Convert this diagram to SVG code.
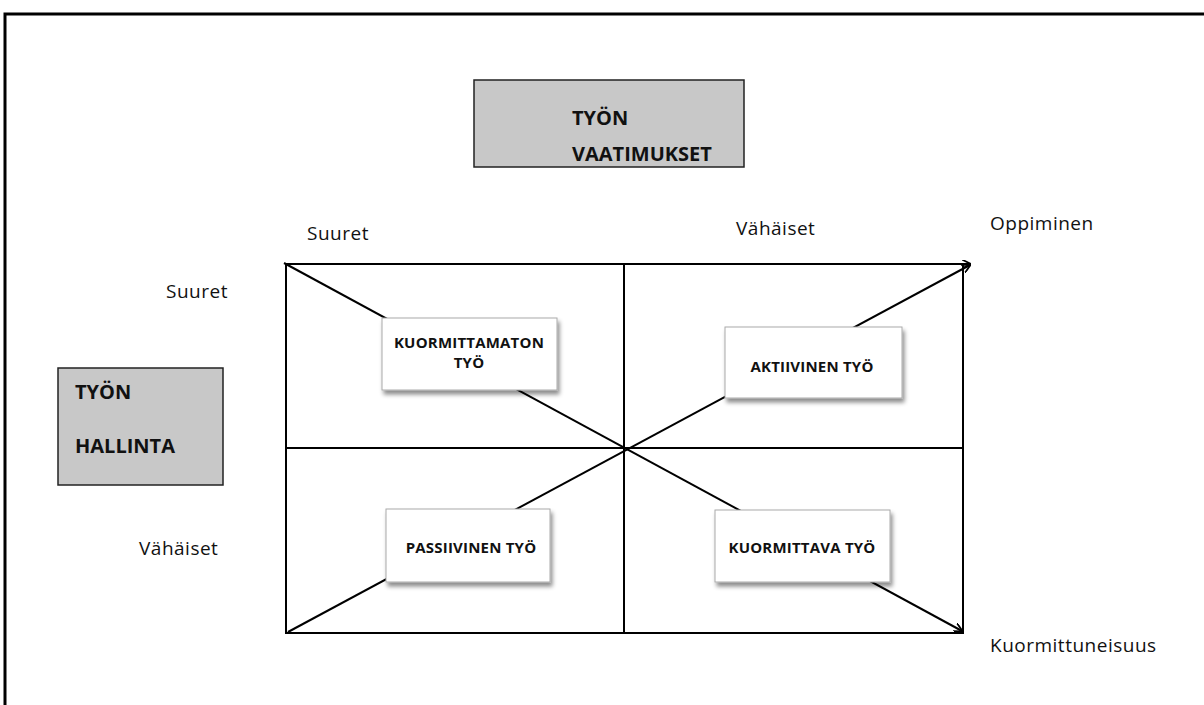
<svg xmlns="http://www.w3.org/2000/svg" width="1204" height="705" viewBox="0 0 1204 705">
<defs>
<marker id="arr" viewBox="0 0 10 10" refX="9" refY="5" markerWidth="9" markerHeight="9" markerUnits="userSpaceOnUse" orient="auto"><path d="M0,0 L10,5 L0,10" fill="none" stroke="#000" stroke-width="2"/></marker>
<filter id="sh" x="-10%" y="-10%" width="130%" height="140%"><feDropShadow dx="2" dy="4" stdDeviation="2" flood-color="#000" flood-opacity="0.45"/></filter>
</defs>
<style>
.gray{fill:#c8c8c8;stroke:#222;stroke-width:1.5}
.card{fill:#fff;stroke:#aaa;stroke-width:1;filter:url(#sh)}
.ln{stroke:#000;stroke-width:2;fill:none}
.big{font-family:"Open Sans","Liberation Sans",sans-serif;font-weight:bold;font-size:20px;fill:#111}
.sm{font-family:"Open Sans","Liberation Sans",sans-serif;font-weight:bold;font-size:15px;fill:#111;text-anchor:middle;letter-spacing:0.2px}
.lbl{font-family:"Open Sans","Liberation Sans",sans-serif;font-size:19px;fill:#111;letter-spacing:0.5px}
</style>
<rect width="1204" height="705" fill="#fff"/>
<path d="M5,705 L5,14 L1204,14" fill="none" stroke="#000" stroke-width="3"/>
<g id="connectors">
<rect x="286" y="264" width="677" height="369" class="ln"/>
<line x1="624" y1="264" x2="624" y2="633" class="ln"/>
<line x1="286" y1="448" x2="963" y2="448" class="ln"/>
<line x1="286" y1="264" x2="970" y2="264" class="ln" marker-end="url(#arr)"/>
<line x1="288" y1="632" x2="970" y2="265" class="ln" marker-end="url(#arr)"/>
<line x1="284" y1="263" x2="962" y2="631" class="ln" marker-end="url(#arr)"/>
</g>
<g id="vaatimukset"><rect x="474" y="80" width="270" height="87" class="gray"/><text x="572" y="125" class="big">TYÖN</text><text x="572" y="161" class="big">VAATIMUKSET</text></g>
<g id="hallinta"><rect x="58" y="368" width="165" height="117" class="gray"/><text x="75" y="399" class="big">TYÖN</text><text x="75" y="453" class="big">HALLINTA</text></g>
<g id="kuormittamaton"><rect x="382" y="318" width="175" height="72" class="card"/><text x="469" y="348" class="sm">KUORMITTAMATON</text><text x="469" y="368" class="sm">TYÖ</text></g>
<g id="aktiivinen"><rect x="725" y="327" width="177" height="71" class="card"/><text x="812" y="372" class="sm">AKTIIVINEN TYÖ</text></g>
<g id="passiivinen"><rect x="386" y="509" width="164" height="73" class="card"/><text x="471" y="553" class="sm">PASSIIVINEN TYÖ</text></g>
<g id="kuormittava"><rect x="715" y="510" width="175" height="72" class="card"/><text x="802" y="553" class="sm">KUORMITTAVA TYÖ</text></g>
<g id="labels">
<text x="307" y="240" class="lbl">Suuret</text>
<text x="736" y="235" class="lbl">Vähäiset</text>
<text x="990" y="230" class="lbl">Oppiminen</text>
<text x="166" y="298" class="lbl">Suuret</text>
<text x="139" y="555" class="lbl">Vähäiset</text>
<text x="990" y="652" class="lbl">Kuormittuneisuus</text>
</g>
</svg>
